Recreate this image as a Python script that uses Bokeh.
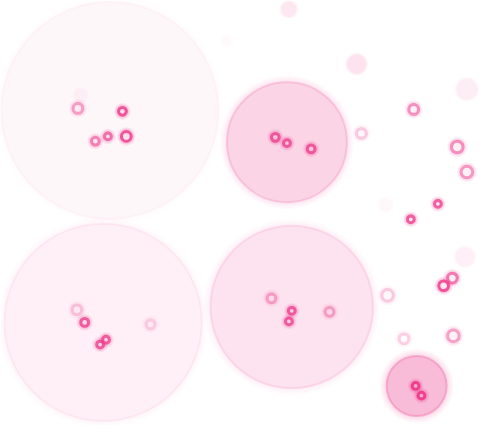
from bokeh.plotting import figure
from bokeh.models import Range1d
from bokeh.embed import file_html
from bokeh.resources import INLINE

PINK = "#ee3a8c"

# large clusters
group_x = [113, 296, 106, 301, 430]
group_y = [114, 147, 334, 318, 400]
group_r = [112, 62, 102, 84, 31]
group_level = [0.04, 0.22, 0.08, 0.14, 0.34]

# ringed dots
dot_x = [80, 126, 98, 111, 130, 284, 296, 321, 79, 87, 103, 109, 155,
         280, 301, 298, 340, 429, 435,
         427, 373, 472, 482, 452, 424, 467, 458, 400, 417, 468]
dot_y = [112, 115, 146, 141, 141, 142, 148, 154, 321, 334, 357, 352, 336,
         309, 322, 333, 323, 400, 410,
         113, 138, 152, 178, 211, 227, 288, 296, 306, 351, 348]
dot_r = [5, 4, 4, 3.5, 5, 4, 3.5, 4, 5, 4, 3.5, 3.5, 4.5,
         4.5, 3.5, 3.5, 4.5, 3.5, 3.5,
         5, 5, 6, 6, 3.5, 3.5, 5, 5, 6, 5, 6]
dot_level = [0.45, 0.85, 0.6, 0.7, 0.85, 0.8, 0.8, 0.8, 0.25, 0.8, 0.8, 0.8, 0.2,
             0.4, 0.8, 0.8, 0.4, 0.95, 0.95,
             0.55, 0.25, 0.55, 0.5, 0.8, 0.8, 0.65, 0.85, 0.25, 0.22, 0.45]

# faint soft discs
disc_x = [298, 368, 482, 480, 83, 233, 398]
disc_y = [9, 66, 92, 266, 98, 42, 212]
disc_r = [8, 10, 11, 10, 7, 5, 7]
disc_level = [0.12, 0.14, 0.09, 0.08, 0.05, 0.03, 0.04]

p = figure(width=479, height=425, output_backend="svg", toolbar_location=None,
           x_range=Range1d(0, 495), y_range=Range1d(441, 0), min_border=0)
p.axis.visible = False
p.grid.visible = False
p.outline_line_color = None
p.background_fill_color = "white"
p.border_fill_color = "white"


def glow(xs, ys, rs, levels, steps, width, strength):
    # soft halo as stacked rings outside each circle
    for k in range(steps):
        p.annulus(xs, ys,
                  inner_radius=[r + k * width for r in rs],
                  outer_radius=[r + (k + 1) * width for r in rs],
                  fill_color=PINK, line_color=None,
                  fill_alpha=[l * strength * (1 - k / steps) for l in levels])


# clusters
glow(group_x, group_y, group_r, group_level, 5, 1.4, 0.55)
p.circle(group_x, group_y, radius=group_r, fill_color=PINK, fill_alpha=group_level,
         line_color=PINK, line_alpha=[l * 0.8 for l in group_level], line_width=2)

# soft discs
glow(disc_x, disc_y, disc_r, disc_level, 2, 1.0, 0.5)
p.circle(disc_x, disc_y, radius=disc_r, fill_color=PINK, fill_alpha=disc_level,
         line_color=None)

# dots
glow(dot_x, dot_y, [r + 1 for r in dot_r], dot_level, 4, 0.9, 0.4)
p.circle(dot_x, dot_y, radius=dot_r, fill_color=PINK,
         fill_alpha=[l * 0.15 for l in dot_level],
         line_color=PINK, line_alpha=dot_level, line_width=3)

open("out.html", "w").write(file_html(p, INLINE))
